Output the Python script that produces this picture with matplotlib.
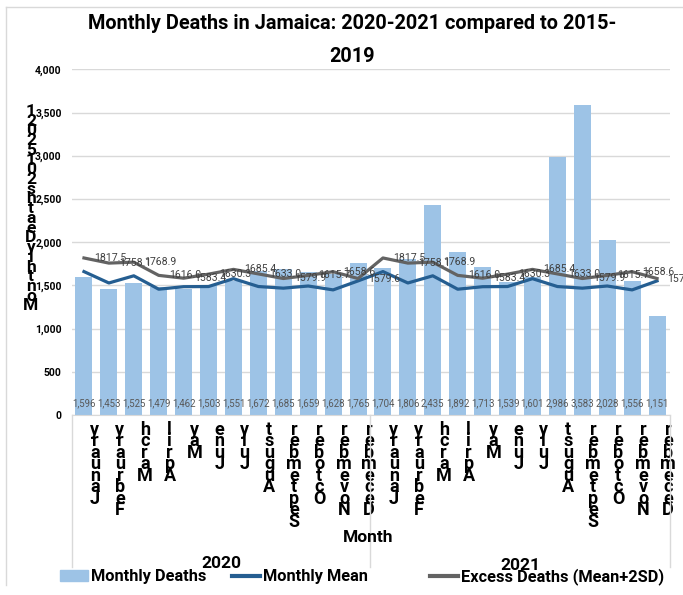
import matplotlib.pyplot as plt
import matplotlib.transforms as mtransforms
from matplotlib.lines import Line2D
from matplotlib.patches import Patch

# Datos
meses = ['January', 'February', 'March', 'April', 'May', 'June', 'July',
         'August', 'September', 'October', 'November', 'December']
anios = ['2020', '2021']
muertes = [1596, 1453, 1525, 1479, 1462, 1503, 1551, 1672, 1685, 1659, 1628, 1765,
           1704, 1806, 2435, 1892, 1713, 1539, 1601, 2986, 3583, 2028, 1556, 1151]
media_mes = [1660, 1528, 1611, 1456, 1485, 1487, 1578, 1487, 1468, 1493, 1448, 1552]
exceso_mes = [1817.5, 1758.1, 1768.9, 1616.0, 1583.4, 1630.3,
              1685.4, 1633.0, 1579.9, 1615.7, 1658.6, 1579.6]
media = media_mes * 2
exceso = exceso_mes * 2
yticks = [0, 500, 1000, 1500, 2000, 2500, 3000, 3500, 4000]

FUENTE = ['Roboto', 'DejaVu Sans']
plt.rcParams['font.family'] = FUENTE

AZUL_BARRA = '#9DC3E6'
AZUL = '#255E91'
GRIS = '#636363'
GRID = '#D9D9D9'

W, H = 683, 595
fig = plt.figure(figsize=(W / 100, H / 100), dpi=100)
ax = fig.add_axes([71.5 / W, (H - 415) / H, 598 / W, 345.6 / H])

x = list(range(len(muertes)))
ax.bar(x, muertes, width=0.68, color=AZUL_BARRA, zorder=2)
ax.plot(x, media, color=AZUL, lw=2.3, zorder=3)
ax.plot(x, exceso, color=GRIS, lw=2.3, zorder=3)

# Etiquetas de las barras
for i, v in enumerate(muertes):
    ax.annotate(f'{v:,}', xy=(i, 0), xytext=(0, 8.6), textcoords='offset points',
                ha='center', va='center', fontsize=6.9, color='#595959', zorder=4)

# Etiquetas de la linea de exceso
for i, v in enumerate(exceso):
    ax.annotate(f'{v:.1f}', xy=(i, v), xytext=(7.5, 0), textcoords='offset points',
                ha='left', va='center', fontsize=7.6, color='#404040', zorder=4)

ax.set_xlim(-0.5, len(muertes) - 0.5)
ax.set_ylim(0, 4000)
ax.set_yticks(yticks)
ax.set_yticklabels([f'{t:,}' for t in yticks], fontsize=7.5, fontweight='bold')
ax.tick_params(axis='y', length=0, pad=7)
ax.grid(axis='y', color=GRID, lw=1, zorder=0)
for s in ['top', 'right', 'left']:
    ax.spines[s].set_visible(False)
ax.spines['bottom'].set_color(GRID)

# Meses apilados (letras al reves, como en el original)
etiquetas = ['\n'.join(reversed(m)) for m in meses] * 2
ax.set_xticks(x)
ax.set_xticklabels(etiquetas, fontsize=13, fontweight='bold', linespacing=0.54)
ax.tick_params(axis='x', length=0, pad=4)
desplaza = mtransforms.ScaledTranslation(7.9 / 72, 0, fig.dpi_scale_trans)
for lab in ax.get_xticklabels():
    lab.set_transform(lab.get_transform() + desplaza)

# Caja de categorias
tr = mtransforms.blended_transform_factory(ax.transData, fig.transFigure)
for xv in [-0.5, 11.5, 23.5]:
    ax.plot([xv, xv], [(H - 415) / H, (H - 567) / H], color=GRID, lw=1,
            transform=tr, clip_on=False)

fig.text(368 / W, (H - 538) / H, 'Month', ha='center', va='center',
         fontsize=12.5, fontweight='bold')
fig.text(221 / W, (H - 563) / H, anios[0], ha='center', va='center',
         fontsize=12.5, fontweight='bold')
fig.text(520 / W, (H - 566) / H, anios[1], ha='center', va='center',
         fontsize=12.5, fontweight='bold')

ylab = ''.join(reversed('Monthly Deaths 2015 2021'.replace(' ', '')))
fig.text(31 / W, (H - 104) / H, '\n'.join(ylab), ha='center', va='top',
         fontsize=12.5, fontweight='bold', linespacing=0.56)

fig.text(352 / W, (H - 14) / H,
         'Monthly Deaths in Jamaica: 2020-2021 compared to 2015-\n2019',
         ha='center', va='top', fontsize=14.3, fontweight='bold', linespacing=1.95)

# Leyenda (una entrada por posicion, como en Excel)
handles = [Patch(color=AZUL_BARRA, label='Monthly Deaths'),
           Line2D([], [], color=AZUL, lw=3, label='Monthly Mean'),
           Line2D([], [], color=GRIS, lw=3, label='Excess Deaths (Mean+2SD)')]
pos_x = [60, 232, 430]
for h, px in zip(handles, pos_x):
    fig.legend(handles=[h], loc='center left', bbox_to_anchor=(px / W, (H - 577) / H),
               frameon=False, borderpad=0, borderaxespad=0, handlelength=1.7,
               handleheight=0.65, handletextpad=0.2,
               prop={'family': FUENTE, 'weight': 'bold', 'size': 11.8})

# Borde del grafico
fig.add_artist(Line2D([6 / W, 6 / W], [(H - 7) / H, (H - 585) / H], color=GRID, lw=1))
fig.add_artist(Line2D([6 / W, 1], [(H - 7) / H, (H - 7) / H], color=GRID, lw=1))

fig.savefig('out.png', dpi=100)
